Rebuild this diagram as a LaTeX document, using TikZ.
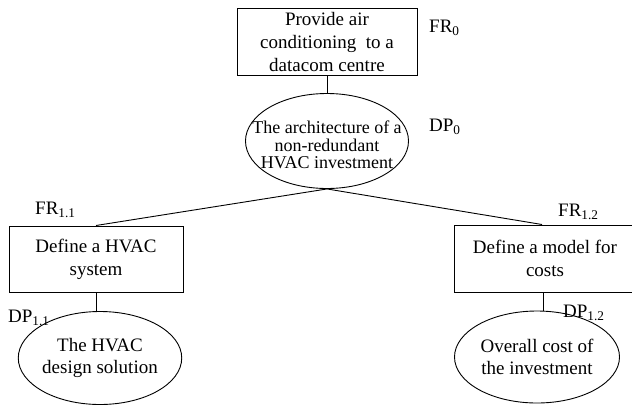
\documentclass[tikz,border=0pt]{standalone}
\usepackage{fontspec}
\setmainfont{Liberation Serif}
\usepackage{tikz}
\usetikzlibrary{shapes.geometric}

\tikzset{
  frbox/.style={draw, line width=1pt, rectangle, align=center, inner sep=1pt,
    font=\fontsize{19}{23}\selectfont},
  dpell/.style={draw, line width=0.9pt, ellipse, inner sep=0pt, align=center,
    font=\fontsize{19}{22}\selectfont},
  dptext/.style={align=center, inner sep=0pt, font=\fontsize{18}{17.5}\selectfont},
  tag/.style={anchor=west, inner sep=0pt, font=\fontsize{19}{23}\selectfont},
  link/.style={line width=0.9pt}
}

\begin{document}
\begin{tikzpicture}[x=1pt, y=-1pt]
  \useasboundingbox (0,0) rectangle (632,405);
  \clip (0,0) rectangle (632,405);
  % Level 0
  \node[frbox, minimum width=180pt, minimum height=67pt] (fr0) at (327,41.5)
    {Provide air\\conditioning\ \ to a\\datacom centre};
  \node[dpell, minimum width=163pt, minimum height=95pt,
    label={[dptext, yshift=-4pt]center:{The architecture of a\\non-redundant\\HVAC investment}}]
    (dp0) at (327,141) {};
  \node[tag] (fr0tag) at (429,28) {FR\textsubscript{0}};
  \node[tag] (dp0tag) at (429,127) {DP\textsubscript{0}};
  % Level 1
  \node[frbox, minimum width=174pt, minimum height=66pt] (fr11) at (96,259)
    {Define a HVAC\\system};
  \node[frbox, minimum width=182pt, minimum height=67pt] (fr12) at (545,258.5)
    {Define a model for\\costs};
  \node[dpell, minimum width=162pt, minimum height=93pt] (dp11) at (100,358)
    {The HVAC\\design solution};
  \node[dpell, minimum width=165pt, minimum height=92pt] (dp12) at (537,357)
    {Overall cost of\\the investment};
  \node[tag] (fr11tag) at (35,210) {FR\textsubscript{1.1}};
  \node[tag] (dp11tag) at (8,318) {DP\textsubscript{1.1}};
  \node[tag] (fr12tag) at (558,212) {FR\textsubscript{1.2}};
  \node[tag] (dp12tag) at (563,313) {DP\textsubscript{1.2}};
  % Connectors
  \draw[link] (fr0) -- (dp0);
  \draw[link] (dp0.south) -- (fr11.north);
  \draw[link] (dp0.south) -- ([xshift=-3pt]fr12.north);
  \draw[link] (fr11.south) -- (fr11.south |- dp11.north);
  \draw[link] ([xshift=-2pt]fr12.south) -- ([xshift=-2pt]fr12.south |- dp12.north);
\end{tikzpicture}
\end{document}
